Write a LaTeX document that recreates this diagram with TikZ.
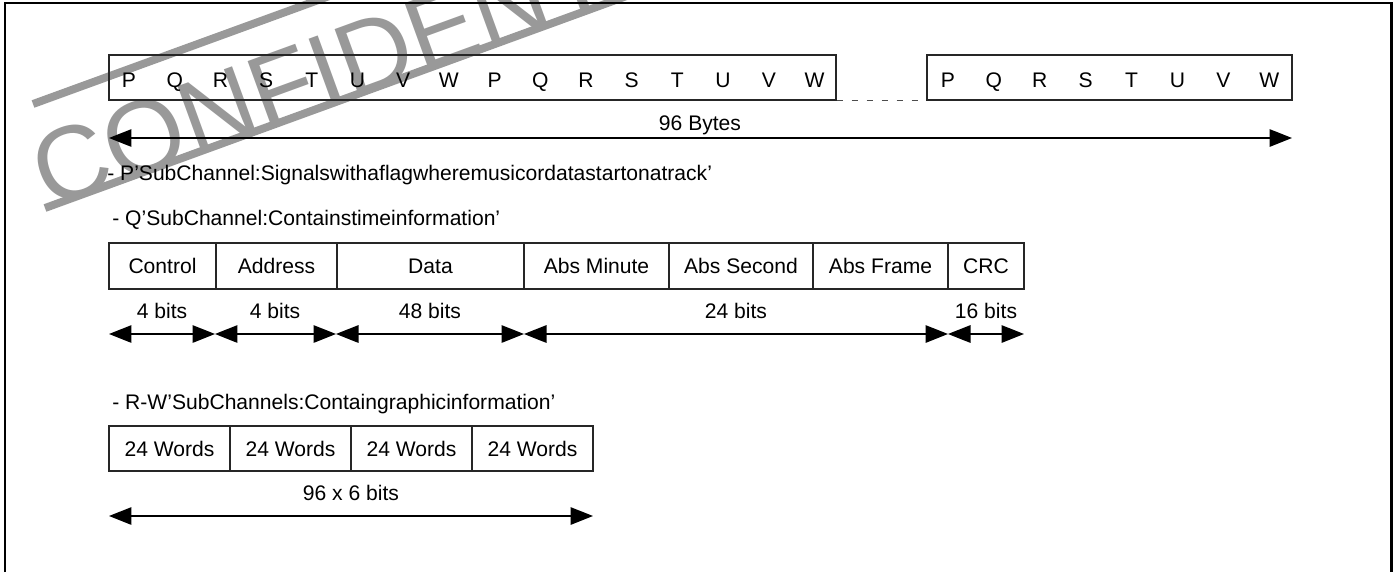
\documentclass[tikz,border=0pt]{standalone}
\usepackage{fontspec}
\setmainfont{Liberation Sans}
\usepackage{tikz}
\usetikzlibrary{arrows.meta,positioning}

\begin{document}
\begin{tikzpicture}[
    x=0.02cm, y=-0.02cm,
    font=\fontsize{12}{14}\selectfont,
    field/.style={rectangle, draw=black!85, line width=0.8pt, minimum height=0.9cm, inner sep=0pt},
    letter/.style={anchor=base, inner sep=0pt},
    bits/.style={anchor=base, inner sep=0pt},
    heading/.style={anchor=base west, inner sep=0pt},
    span/.style={line width=0.8pt, {Triangle[length=4.5mm, width=3.5mm]}-{Triangle[length=4.5mm, width=3.5mm]}},
    stamp/.style={black!40},
    border/.style={line width=1.7pt},
]
\useasboundingbox (0,0) rectangle (1396,572);

% Watermark behind everything
\begin{scope}
\clip (0,0) rectangle (1396,572);
\draw[stamp, line width=4.5pt] (33,104) -- (420,-37);
\draw[stamp, line width=4.5pt] (45,208) -- (720,-38);
\node[stamp, anchor=base west, rotate=20, inner sep=0pt, font=\fontsize{59}{59}\selectfont] (conf) at (48,210) {CONFIDENTIAL};
\end{scope}

% Page frame (open at the bottom)
\draw[border] (5,572) -- (5,3) -- (1391,3) -- (1391,572);

% Subcode bytes
\node[field, minimum width=14.54cm] (rowa) at (472.5,77.5) {};
\node[field, minimum width=7.30cm] (rowb) at (1109.5,77.5) {};
\foreach \ch [count=\i from 0] in {P,Q,R,S,T,U,V,W,P,Q,R,S,T,U,V,W}
    \node[letter] (a\i) at (129+45.7*\i,87) {\ch};
\foreach \ch [count=\i from 0] in {P,Q,R,S,T,U,V,W}
    \node[letter] (b\i) at (948+45.9*\i,87) {\ch};
\draw[black!70, line width=0.8pt, dash pattern=on 0.12cm off 0.18cm] (rowa.south east) -- (rowb.south west);

\coordinate (byl) at (109,138);
\coordinate (byr) at (1292,138);
\draw[span] (byl) -- (byr);
\node[bits] (bytes) at (700,130) {96 Bytes};

% Headings
\node[heading] (hp) at (107,180.5) {- P'SubChannel:Signalswithaflagwheremusicordatastartonatrack'};
\node[heading] (hq) at (112,225.5) {- Q'SubChannel:Containstimeinformation'};
\node[heading] (hrw) at (112,409.5) {- R-W'SubChannels:Containgraphicinformation'};

% Q subchannel fields
\node[field, minimum width=2.14cm, minimum height=0.92cm] (ctrl) at (162.5,266) {Control};
\node[field, minimum width=2.42cm, minimum height=0.92cm] (addr) at (276.5,266) {Address};
\node[field, minimum width=3.74cm, minimum height=0.92cm] (data) at (430.5,266) {Data};
\node[field, minimum width=2.90cm, minimum height=0.92cm] (amin) at (596.5,266) {Abs Minute};
\node[field, minimum width=2.88cm, minimum height=0.92cm] (asec) at (741,266) {Abs Second};
\node[field, minimum width=2.70cm, minimum height=0.92cm] (afrm) at (880.5,266) {Abs Frame};
\node[field, minimum width=1.52cm, minimum height=0.92cm] (crc) at (986,266) {CRC};

\coordinate (q0) at (109,334);
\coordinate (q1) at (215,334);
\coordinate (q2) at (336,334);
\coordinate (q3) at (524,334);
\coordinate (q4) at (948,334);
\coordinate (q5) at (1024,334);
\foreach \a/\b in {q0/q1,q1/q2,q2/q3,q3/q4,q4/q5}
    \draw[span] (\a) -- (\b);

\node[bits] (qb1) at (162,318.5) {4 bits};
\node[bits] (qb2) at (275,318.5) {4 bits};
\node[bits] (qb3) at (430,318.5) {48 bits};
\node[bits] (qb4) at (736,318.5) {24 bits};
\node[bits] (qb5) at (986,318.5) {16 bits};

% R-W subchannel words
\foreach \i in {0,...,3}
    \node[field, minimum width=2.42cm] (w\i) at (169.5+121*\i,448.5) {24 Words};

\coordinate (rwl) at (109,516);
\coordinate (rwr) at (593,516);
\draw[span] (rwl) -- (rwr);
\node[bits] (rwb) at (351,500) {96 x 6 bits};

\end{tikzpicture}
\end{document}
